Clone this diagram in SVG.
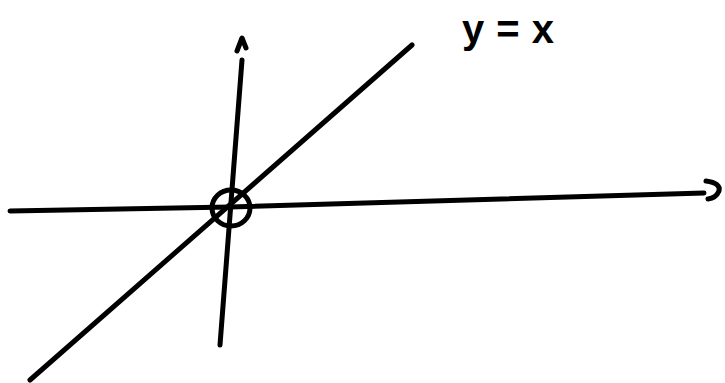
<svg xmlns="http://www.w3.org/2000/svg" width="725" height="383" viewBox="0 0 725 383">
<style>
.ln{fill:none;stroke:#000;stroke-width:5;stroke-linecap:round;stroke-linejoin:round}
.lbl{font-family:"Liberation Sans",Arial,sans-serif;font-weight:bold;font-size:40px;fill:#000}
</style>
<rect width="725" height="383" fill="#fff"/>
<g id="connectors">
<path class="ln" d="M10 211 L230 207 L704 193"/>
<path class="ln" d="M706 181 Q721 183 719 191 Q716 198 708 199"/>
<path class="ln" d="M220 345 L242 60"/>
<path class="ln" d="M237 51 L242 38 L246 48"/>
<path class="ln" d="M30 380 L412 45"/>
</g>
<g id="origin">
<ellipse class="ln" cx="231" cy="208" rx="19" ry="18"/>
</g>
<g id="label">
<text class="lbl" x="462" y="43" textLength="92" lengthAdjust="spacing">y=x</text>
</g>
</svg>
